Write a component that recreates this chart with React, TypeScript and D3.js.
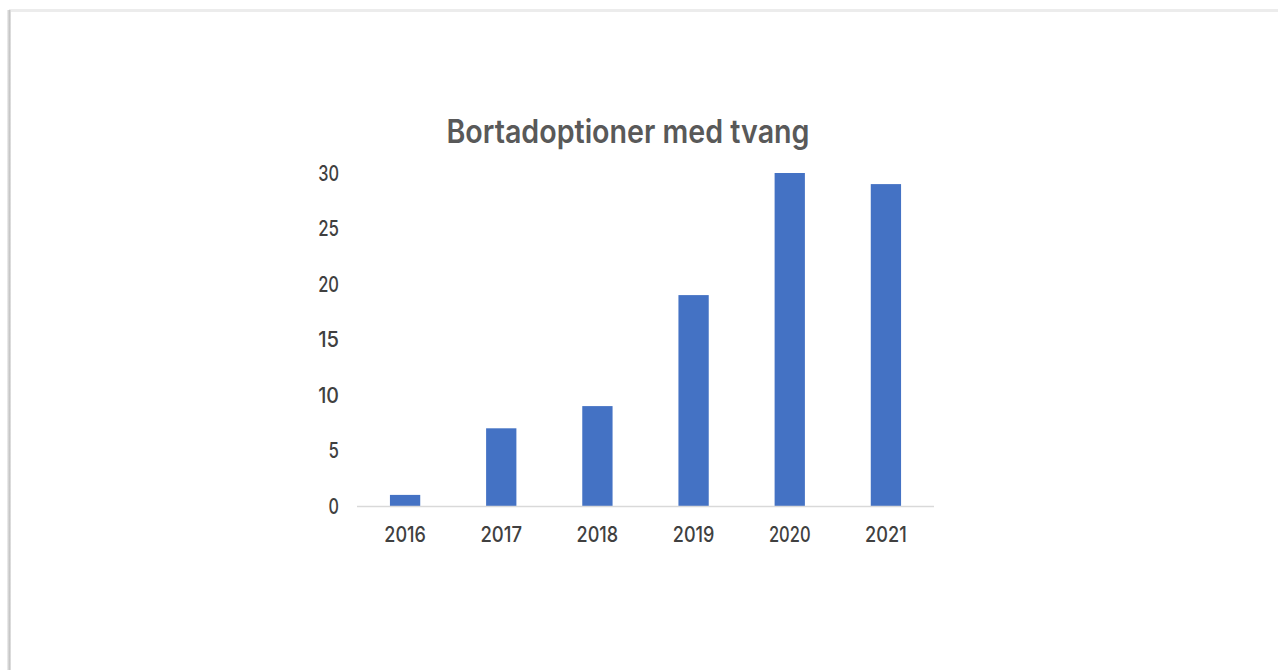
import React from 'react'
import * as d3 from 'd3'

const years = ['2016', '2017', '2018', '2019', '2020', '2021']
const counts = [1, 7, 9, 19, 30, 29]
const yTicks = [0, 5, 10, 15, 20, 25, 30]
const title = 'Bortadoptioner med tvang'

const W = 1278
const H = 670

const App: React.FC = () => {
  const x = d3.scaleBand<string>().domain(years).range([357, 934]).paddingInner(0.685).paddingOuter(0.3425)
  const y = d3.scaleLinear().domain([0, 30]).range([506, 173])

  const font = 'Inter, "Noto Sans", sans-serif'
  const digitW = 10.4

  return (
    <div style={{ position: 'absolute', left: 0, top: 0 }}>
      <svg width={W} height={H} style={{ display: 'block', background: '#fff' }}>
        <defs>
          <linearGradient id="edge" x1="0" x2="1" y1="0" y2="0">
            <stop offset="0" stopColor="#f2f2f2" />
            <stop offset="0.6" stopColor="#c4c4c4" />
            <stop offset="1" stopColor="#e6e6e6" />
          </linearGradient>
        </defs>
        {/* page frame */}
        <rect x={9} y={9} width={W - 9} height={3} fill="#ececec" />
        <rect x={7} y={10} width={4} height={H - 10} fill="url(#edge)" />

        <text
          x={628}
          y={143}
          textAnchor="middle"
          fontFamily={font}
          fontSize={32}
          fontWeight={600}
          fill="#595959"
          textLength={363}
          lengthAdjust="spacingAndGlyphs"
        >
          {title}
        </text>

        {/* y tick labels */}
        {yTicks.map(t => (
          <text
            key={t}
            x={339}
            y={y(t) + 7.8}
            textAnchor="end"
            fontFamily={font}
            fontSize={21.5}
            fontWeight={500}
            fill="#404040"
            textLength={String(t).length * digitW}
            lengthAdjust="spacingAndGlyphs"
          >
            {t}
          </text>
        ))}

        {/* bars */}
        {years.map((yr, i) => (
          <rect
            key={yr}
            x={x(yr)}
            y={y(counts[i])}
            width={x.bandwidth()}
            height={y(0) - y(counts[i])}
            fill="#4472C4"
          />
        ))}

        {/* baseline */}
        <line x1={357} x2={934} y1={y(0) + 0.5} y2={y(0) + 0.5} stroke="#d9d9d9" strokeWidth={1.5} />

        {/* x labels */}
        {years.map(yr => (
          <text
            key={yr}
            x={(x(yr) || 0) + x.bandwidth() / 2}
            y={542}
            textAnchor="middle"
            fontFamily={font}
            fontSize={21.5}
            fontWeight={500}
            fill="#404040"
            textLength={yr.length * digitW}
            lengthAdjust="spacingAndGlyphs"
          >
            {yr}
          </text>
        ))}
      </svg>
    </div>
  )
}

export default App
